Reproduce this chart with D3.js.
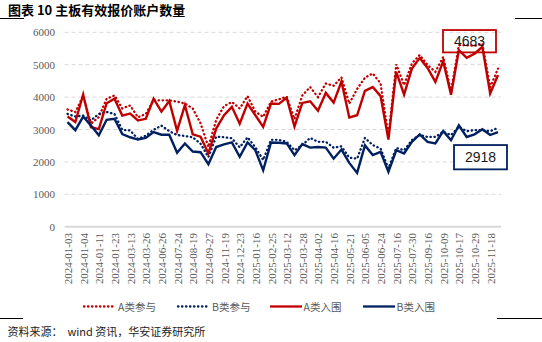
<!DOCTYPE html>
<html><head><meta charset="utf-8">
<script src="https://cdn.jsdelivr.net/npm/d3@7"></script>
<style>
html,body{margin:0;padding:0;background:#fff;}
svg{display:block;}
</style></head>
<body>
<svg id="c" width="542" height="342"></svg>
<script>
const tickLabels = ["2024-01-03","2024-01-04","2024-01-11","2024-01-23","2024-03-13","2024-03-26","2024-06-26","2024-07-24","2024-08-19","2024-09-27","2024-11-19","2024-12-23","2025-01-16","2025-02-25","2025-03-12","2025-03-28","2025-04-02","2025-04-16","2025-05-21","2025-06-05","2025-06-24","2025-07-16","2025-07-30","2025-09-16","2025-10-09","2025-10-17","2025-10-29","2025-11-18"];
const yTicks = [0,1000,2000,3000,4000,5000,6000];

const aJoin = [3620,3540,4030,3180,3380,3950,4050,3650,3740,3380,3480,3900,3900,3900,3860,3800,3650,3190,2460,3300,3720,3850,3650,4030,3550,3390,3860,3930,4010,3320,4050,4310,4000,4420,4350,4610,3800,4250,4600,4730,4420,2800,5010,4370,5040,5300,4990,4780,5240,4170,5600,5600,5580,5650,4300,4880];
const bJoin = [3480,3400,3430,3280,3480,3540,3480,2990,2970,2710,2810,2990,3120,2950,2830,2800,2760,2560,2150,2780,2760,2730,2450,2760,2450,2060,2680,2680,2620,2360,2520,2740,2620,2620,2440,2480,2130,2100,2740,2520,2410,1800,2430,2360,2670,2830,2770,2770,2930,2830,3080,2950,2980,2980,2950,3050];
const aWin = [3400,3230,4080,3070,3010,3810,3950,3430,3490,3280,3330,3950,3550,3880,2960,3750,2850,2780,2260,3030,3440,3700,3180,3800,3440,3080,3800,3790,3980,3090,3820,3870,3580,4130,3830,4480,3370,3440,4190,4310,4030,2690,4780,4080,4880,5210,4900,4470,5110,4070,5450,5210,5340,5550,4110,4683];
const bWin = [3230,2980,3400,3120,2820,3300,3330,2860,2760,2690,2740,2920,2840,2840,2280,2570,2320,2300,1930,2460,2540,2600,2160,2600,2360,1740,2600,2590,2570,2210,2550,2440,2460,2440,2100,2380,1970,1660,2510,2210,2310,1690,2360,2260,2620,2850,2620,2570,2950,2670,3130,2770,2850,3010,2830,2918];

const seriesNames = ["A类参与","B类参与","A类入围","B类入围"];
const RED = "#c00000", NAVY = "#002060";

const svg = d3.select("#c");
const n = aWin.length;
const idx = d3.range(n);

const x = d3.scalePoint().domain(idx).range([67.5, 498]);
const y = d3.scaleLinear().domain([0, 6000]).range([226.7, 32.3]);
const plotL = 64.5, plotR = 501;

// title
svg.append("text").attr("x", 8).attr("y", 14.5)
  .attr("font-family", "'Noto Sans CJK SC', sans-serif").attr("font-weight", "bold")
  .attr("font-size", 13).attr("fill", "#000").text("图表 10 主板有效报价账户数量");

// corner rules
const rule = (x1, x2, yy) => svg.append("line").attr("x1", x1).attr("x2", x2).attr("y1", yy).attr("y2", yy)
  .attr("stroke", "#000").attr("stroke-width", 1);
rule(0, 24, 18.5); rule(515, 542, 18.5);
rule(0, 23, 318.5); rule(497, 542, 318.5);

// gridlines
svg.append("g").selectAll("line").data(yTicks.filter(d => d > 0)).join("line")
  .attr("x1", plotL).attr("x2", plotR)
  .attr("y1", d => y(d)).attr("y2", d => y(d))
  .attr("stroke", "#d9d9d9").attr("stroke-width", 1).attr("stroke-dasharray", "4,3");
// base axis
svg.append("line").attr("x1", plotL).attr("x2", plotR).attr("y1", y(0)).attr("y2", y(0))
  .attr("stroke", "#d9d9d9").attr("stroke-width", 2);

// y axis labels
const yAxis = d3.axisLeft(y).tickValues(yTicks).tickSize(0).tickPadding(0).tickFormat(d3.format("d"));
const gy = svg.append("g").attr("transform", "translate(55,0)").call(yAxis);
gy.select(".domain").remove();
gy.selectAll("text").attr("font-family", "'Liberation Serif', serif").attr("font-size", 11).attr("fill", "#595959");

// x labels every 2 points
const xAxis = d3.axisBottom(x).tickValues(idx.filter(i => i % 2 === 0)).tickSize(0)
  .tickFormat(i => tickLabels[i / 2]);
const gx = svg.append("g").attr("transform", "translate(0,233)").call(xAxis);
gx.select(".domain").remove();
gx.selectAll("text")
  .attr("font-family", "'Liberation Serif', serif").attr("font-size", 11).attr("fill", "#595959")
  .attr("text-anchor", "end").attr("dy", null).attr("y", 0)
  .attr("dominant-baseline", "central")
  .attr("transform", "rotate(-90)");

// lines
const DOT = "0.4,3.6";
const line = d3.line().x((d, i) => x(i)).y(d => y(d));
const specs = [
  {data: aJoin, color: RED, dash: DOT, w: 2.3},
  {data: bJoin, color: NAVY, dash: DOT, w: 2.3},
  {data: aWin, color: RED, dash: null, w: 2.4},
  {data: bWin, color: NAVY, dash: null, w: 2.4}
];
specs.forEach(s => {
  svg.append("path").datum(s.data).attr("d", line).attr("fill", "none")
    .attr("stroke", s.color).attr("stroke-width", s.w)
    .attr("stroke-dasharray", s.dash)
    .attr("stroke-linecap", s.dash ? "round" : "butt")
    .attr("stroke-linejoin", "miter");
});

// annotation boxes
const last = n - 1;
function box(val, color, x0, x1, yTopVal, yBotVal, fill) {
  const g = svg.append("g");
  g.append("rect").attr("x", x0).attr("y", y(yTopVal)).attr("width", x1 - x0)
    .attr("height", y(yBotVal) - y(yTopVal)).attr("fill", fill).attr("stroke", color).attr("stroke-width", 1.8);
  g.append("text").attr("x", (x0 + x1) / 2).attr("y", (y(yTopVal) + y(yBotVal)) / 2)
    .attr("text-anchor", "middle").attr("dominant-baseline", "central")
    .attr("font-family", "'Liberation Sans', Arial, sans-serif").attr("font-size", 14).attr("fill", "#1a1a1a")
    .text(val);
}
box(aWin[last], RED, x(last) - 55, x(last) - 2, 6070, 5380, "none");
box(bWin[last], NAVY, x(last) - 44, x(last) + 9, 2520, 1770, "#fff");

// legend
const legY = 306.5;
const leg = [
  {name: seriesNames[0], color: RED, dash: DOT, x0: 84, x1: 113},
  {name: seriesNames[1], color: NAVY, dash: DOT, x0: 178, x1: 207},
  {name: seriesNames[2], color: RED, dash: null, x0: 270, x1: 302},
  {name: seriesNames[3], color: NAVY, dash: null, x0: 363, x1: 395}
];
leg.forEach(l => {
  svg.append("line").attr("x1", l.x0).attr("x2", l.x1).attr("y1", legY).attr("y2", legY)
    .attr("stroke", l.color).attr("stroke-width", 2.3).attr("stroke-dasharray", l.dash)
    .attr("stroke-linecap", l.dash ? "round" : "butt");
  svg.append("text").attr("x", l.x1 + (l.dash ? 5 : 1.5)).attr("y", legY).attr("dominant-baseline", "central")
    .attr("font-family", "'Noto Sans CJK SC', sans-serif").attr("font-size", 10.5).attr("fill", "#595959")
    .text(l.name);
});

// source
svg.append("text").attr("x", 7.5).attr("y", 336)
  .attr("font-family", "'Noto Sans CJK SC', sans-serif").attr("font-size", 11).attr("fill", "#222")
  .attr("xml:space", "preserve").text("资料来源：  wind 资讯，华安证券研究所");
</script>
</body></html>
